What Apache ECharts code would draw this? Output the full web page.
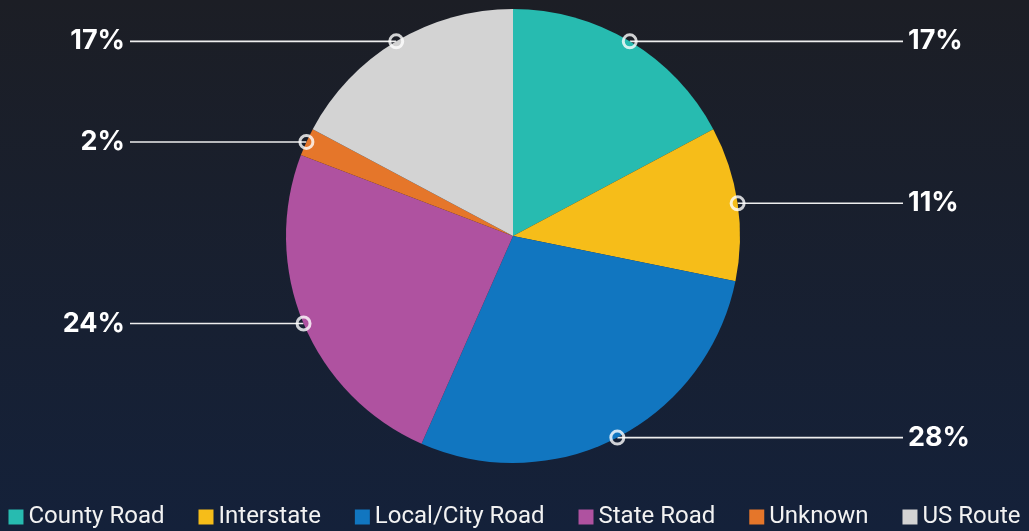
<!DOCTYPE html>
<html>
<head>
<meta charset="utf-8">
<script src="https://cdn.jsdelivr.net/npm/echarts@6/dist/echarts.min.js"></script>
<style>
  html, body { margin: 0; padding: 0; }
  #chart { width: 1029px; height: 531px; }
</style>
</head>
<body>
<div id="chart"></div>
<script>
// share of crashes by road type (%)
const roadTypes = ['County Road', 'Interstate', 'Local/City Road', 'State Road', 'Unknown', 'US Route'];
const shares = [17.2, 11.0, 28.4, 24.2, 2.0, 17.2];
const sliceColors = ['#27bbb0', '#f6bd19', '#1176c0', '#af52a0', '#e5762a', '#d3d3d3'];

const total = shares.reduce((a, b) => a + b, 0);
// middle of each slice in percent of the circle, for the small ring markers
let run = 0;
const markerPoints = shares.map(v => {
  const mid = (run + v / 2) / total * 100;
  run += v;
  return [1, mid];
});

const CX = 513, CY = 236, R = 227;
// where the leader lines stop and the % text begins, on each side
const rightLineEnd = 903, leftLineEnd = 130, labelGap = 5;

const chart = echarts.init(document.getElementById('chart'));

const option = {
  backgroundColor: new echarts.graphic.LinearGradient(0, 0, 0, 1, [
    { offset: 0, color: '#1c1e25' },
    { offset: 1, color: '#14213a' }
  ]),
  color: sliceColors,
  animation: false,
  legend: {
    data: roadTypes,
    left: 'center',
    top: 500,
    icon: 'rect',
    itemWidth: 15,
    itemHeight: 15,
    itemGap: 34,
    textStyle: {
      color: '#f2f2f2',
      fontSize: 24,
      fontFamily: 'Roboto'
    }
  },
  polar: {
    center: [CX, CY],
    radius: R
  },
  angleAxis: {
    type: 'value',
    min: 0,
    max: 100,
    startAngle: 90,
    clockwise: true,
    show: false
  },
  radiusAxis: {
    type: 'value',
    min: 0,
    max: 1,
    show: false
  },
  series: [
    {
      name: 'Road type',
      type: 'pie',
      center: [CX, CY],
      radius: R,
      startAngle: 90,
      clockwise: true,
      data: roadTypes.map((n, i) => ({ name: n, value: shares[i] })),
      label: {
        show: true,
        position: 'outside',
        color: '#ffffff',
        fontSize: 27,
        fontWeight: 'bold',
        fontFamily: 'Inter',
        formatter: p => Math.round(p.percent) + '%'
      },
      labelLine: {
        show: true,
        length: 0,
        length2: 20,
        lineStyle: { color: '#eeeeee', width: 1.6 }
      },
      // stretch every leader line out to a common x on its side
      labelLayout: params => {
        const pts = params.labelLinePoints;
        if (!pts) return {};
        const isRight = pts[0][0] >= CX;
        const endX = isRight ? rightLineEnd : leftLineEnd;
        return {
          x: isRight ? endX + labelGap : endX - labelGap,
          align: isRight ? 'left' : 'right',
          labelLinePoints: [pts[0], pts[1], [endX, pts[2][1]]]
        };
      },
      emphasis: { disabled: true }
    },
    {
      type: 'scatter',
      coordinateSystem: 'polar',
      data: markerPoints,
      symbol: 'circle',
      symbolSize: 13,
      z: 5,
      itemStyle: {
        color: 'rgba(0,0,0,0)',
        borderColor: '#ffffff',
        borderWidth: 3
      },
      emphasis: { disabled: true }
    }
  ]
};

chart.setOption(option);
</script>
</body>
</html>
